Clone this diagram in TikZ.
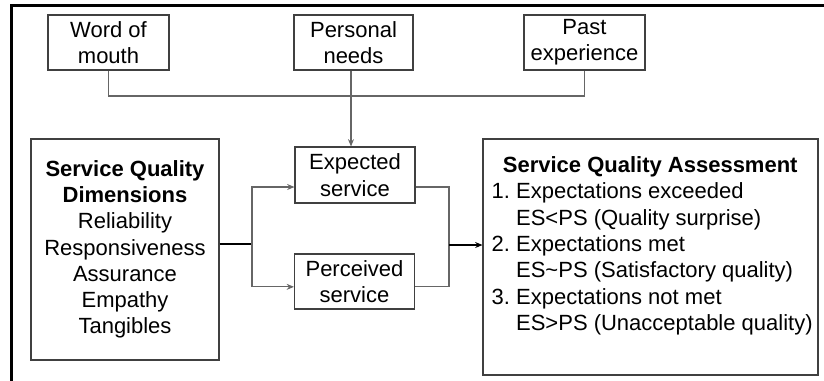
\documentclass[tikz,border=0pt]{standalone}
\usepackage{fontspec}
\setmainfont{Liberation Sans}
\usetikzlibrary{arrows.meta}
\frenchspacing
\begin{document}
\begin{tikzpicture}[x=0.75pt, y=-0.75pt, font=\fontsize{16.5}{19.7}\selectfont]
\tikzstyle{box}=[draw=black!75, line width=0.8pt, align=center, inner sep=0pt]
\tikzstyle{link}=[draw=black!60, line width=0.8pt]
\tikzstyle{arr}=[link, -{Stealth[length=5.5pt,width=4.5pt]}]
\useasboundingbox (0,0) rectangle (824,380);
\draw[line width=2pt] (11.5,381) -- (11.5,5.5) -- (825,5.5);
\node[box, minimum width=90.75pt, minimum height=41.25pt] (wom)    at (108.5,42.5) {Word of\\mouth};
\node[box, minimum width=89.25pt, minimum height=41.25pt] (pn)     at (353.5,42.5) {Personal\\needs};
\node[box, minimum width=90.75pt, minimum height=41.25pt] (pe)     at (584.5,42.5) {Past\\experience};
\node[box, minimum width=90pt,    minimum height=42pt]    (exp)    at (355,175)    {Expected\\service};
\node[box, minimum width=90pt,    minimum height=41.25pt] (per)    at (354.5,281.5) {Perceived\\service};
\node[box, minimum width=141pt,   minimum height=165.75pt] (sqd)   at (125,249.5)
  {\textbf{Service Quality}\\\textbf{Dimensions}\\Reliability\\Responsiveness\\Assurance\\Empathy\\Tangibles};
\node[box, minimum width=251.25pt, minimum height=177pt]  (assess) at (650.5,257) {};
\node[anchor=north west, inner sep=0pt, align=left] (assesstxt)
  at ([xshift=6.75pt, yshift=-13.5pt]assess.north west)
  {\makebox[237.75pt]{\bfseries Service Quality Assessment}\\
   1. Expectations exceeded\\
   \hspace*{18.3pt}ES<PS (Quality surprise)\\
   2. Expectations met\\
   \hspace*{18.3pt}ES\textasciitilde PS (Satisfactory quality)\\
   3. Expectations not met\\
   \hspace*{18.3pt}ES>PS (Unacceptable quality)};
\coordinate (join)  at (351,96);
\coordinate (split) at (252,244);
\coordinate (merge) at (449,245);
\draw[link] (wom.south) |- (join) -| (pe.south);
\draw[arr] (join |- pn.south) -- (join |- exp.north);
\draw[link, draw=black] (sqd.east |- split) -- (split);
\draw[arr] (split) |- ([yshift=-9pt]exp.west);
\draw[arr] (split) |- ([yshift=-4pt]per.west);
\draw[link] ([yshift=-9pt]exp.east) -| (merge);
\draw[link] ([yshift=-4pt]per.east) -| (merge);
\draw[arr, draw=black] (merge) -- (assess.west |- merge);
\end{tikzpicture}
\end{document}
